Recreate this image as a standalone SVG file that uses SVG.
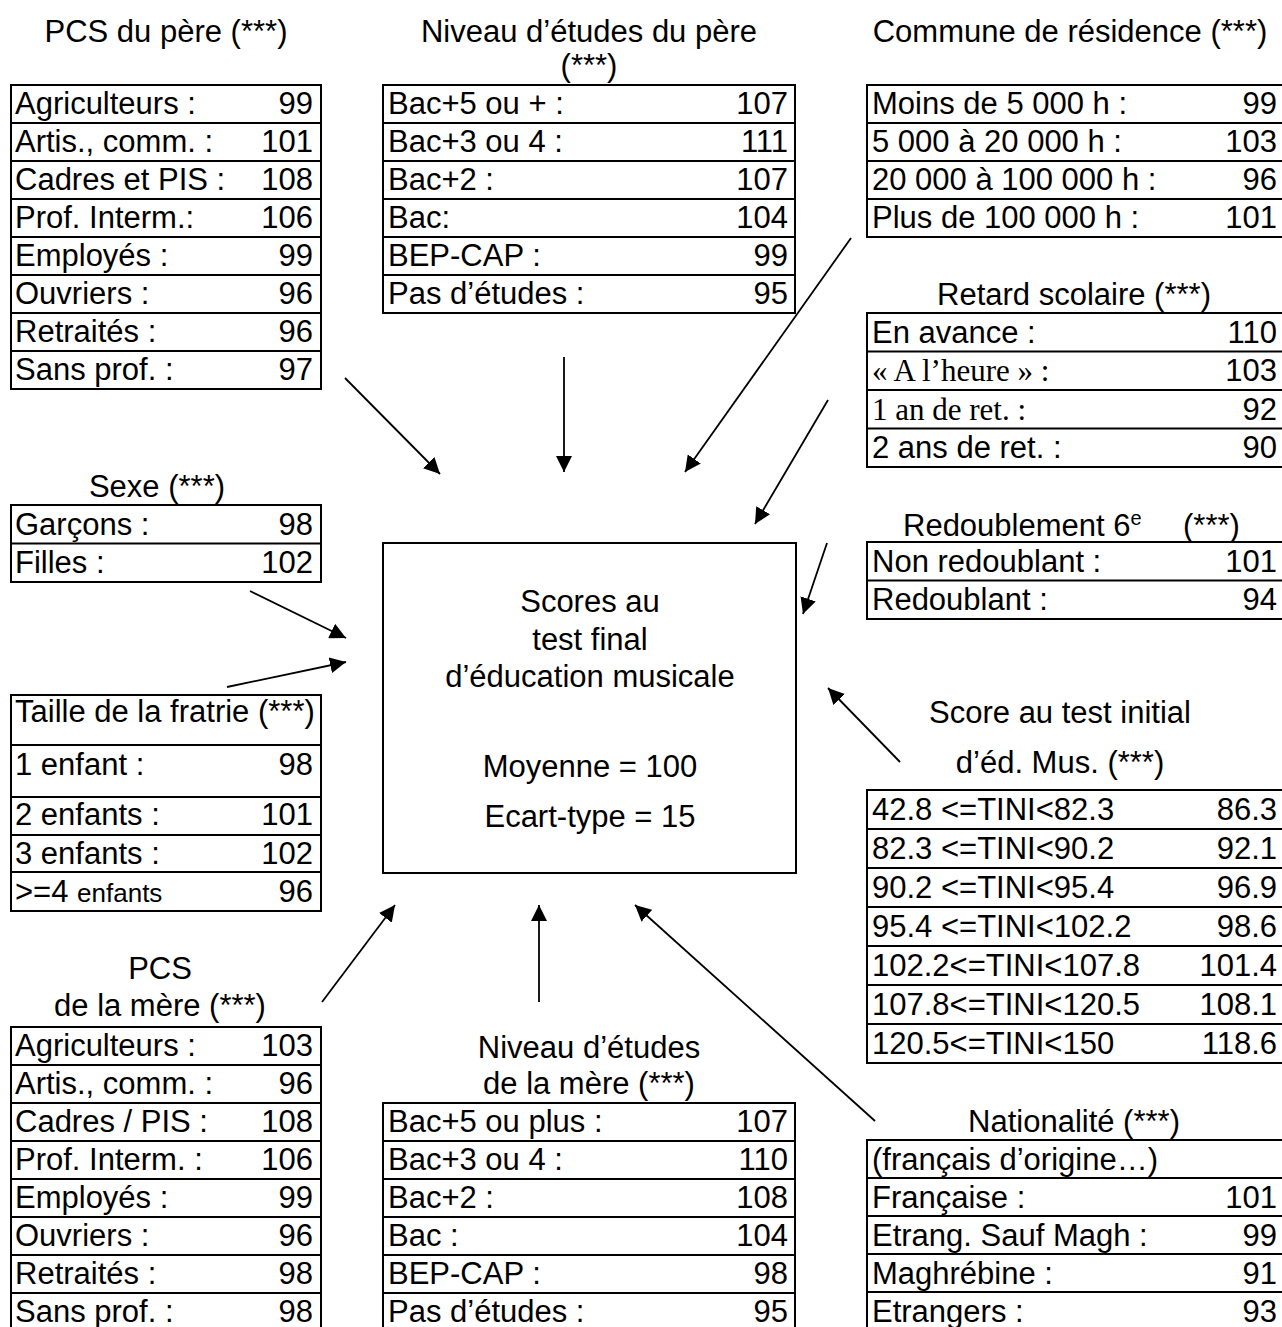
<svg xmlns="http://www.w3.org/2000/svg" width="1282" height="1327" viewBox="0 0 1282 1327">
<style>
text{font-family:"Liberation Sans",Arial,sans-serif;font-size:31px;fill:#000}
.sf{font-family:"Liberation Serif","Times New Roman",serif}
.c{text-anchor:middle}
.r{text-anchor:end}
.tb{fill:none;stroke:#000;stroke-width:2}
.conn line{stroke:#000;stroke-width:1.8;marker-end:url(#ah)}
</style>
<defs>
<marker id="ah" markerUnits="userSpaceOnUse" markerWidth="17" markerHeight="16" refX="16" refY="8" orient="auto">
<path d="M0,0 L16,8 L0,16 z" fill="#000"/>
</marker>
</defs>
<rect width="1282" height="1327" fill="#fff"/>

<g id="pcs-pere">
<text class="c" x="166" y="42">PCS du père (***)</text>
<rect class="tb" x="11" y="85" width="310" height="304"/>
<path class="tb" d="M11,123H321M11,161H321M11,199H321M11,237H321M11,275H321M11,313H321M11,351H321"/>
<text x="15" y="114">Agriculteurs :</text><text class="r" x="313" y="114">99</text>
<text x="15" y="152">Artis., comm. :</text><text class="r" x="313" y="152">101</text>
<text x="15" y="190">Cadres et PIS :</text><text class="r" x="313" y="190">108</text>
<text x="15" y="228">Prof. Interm.:</text><text class="r" x="313" y="228">106</text>
<text x="15" y="266">Employés :</text><text class="r" x="313" y="266">99</text>
<text x="15" y="304">Ouvriers :</text><text class="r" x="313" y="304">96</text>
<text x="15" y="342">Retraités :</text><text class="r" x="313" y="342">96</text>
<text x="15" y="380">Sans prof. :</text><text class="r" x="313" y="380">97</text>
</g>

<g id="niveau-pere">
<text class="c" x="589" y="42">Niveau d’études du père</text>
<text class="c" x="589" y="76">(***)</text>
<rect class="tb" x="383" y="85" width="412" height="228"/>
<path class="tb" d="M383,123H795M383,161H795M383,199H795M383,237H795M383,275H795"/>
<text x="388" y="114">Bac+5 ou + :</text><text class="r" x="788" y="114">107</text>
<text x="388" y="152">Bac+3 ou 4 :</text><text class="r" x="788" y="152">111</text>
<text x="388" y="190">Bac+2 :</text><text class="r" x="788" y="190">107</text>
<text x="388" y="228">Bac:</text><text class="r" x="788" y="228">104</text>
<text x="388" y="266">BEP-CAP :</text><text class="r" x="788" y="266">99</text>
<text x="388" y="304">Pas d’études :</text><text class="r" x="788" y="304">95</text>
</g>

<g id="commune">
<text class="c" x="1070" y="42">Commune de résidence (***)</text>
<rect class="tb" x="867" y="85" width="418" height="152"/>
<path class="tb" d="M867,123H1285M867,161H1285M867,199H1285"/>
<text x="872" y="114">Moins de 5 000 h :</text><text class="r" x="1277" y="114">99</text>
<text x="872" y="152">5 000 à 20 000 h :</text><text class="r" x="1277" y="152">103</text>
<text x="872" y="190">20 000 à 100 000 h :</text><text class="r" x="1277" y="190">96</text>
<text x="872" y="228">Plus de 100 000 h :</text><text class="r" x="1277" y="228">101</text>
</g>

<g id="retard">
<text class="c" x="1074" y="305">Retard scolaire (***)</text>
<rect class="tb" x="867" y="313" width="418" height="154"/>
<path class="tb" d="M867,351.5H1285M867,390H1285M867,428.5H1285"/>
<text x="872" y="343">En avance :</text><text class="r" x="1277" y="343">110</text>
<text class="sf" x="872" y="381">« A l’heure » :</text><text class="r" x="1277" y="381">103</text>
<text class="sf" x="872" y="420">1 an de ret. :</text><text class="r" x="1277" y="420">92</text>
<text x="872" y="458">2 ans de ret. :</text><text class="r" x="1277" y="458">90</text>
</g>

<g id="redoublement">
<text x="903" y="536">Redoublement 6<tspan font-size="20" dy="-11">e</tspan></text>
<text x="1183" y="536">(***)</text>
<rect class="tb" x="867" y="542" width="418" height="77"/>
<path class="tb" d="M867,580.5H1285"/>
<text x="872" y="572">Non redoublant :</text><text class="r" x="1277" y="572">101</text>
<text x="872" y="610">Redoublant :</text><text class="r" x="1277" y="610">94</text>
</g>

<g id="sexe">
<text class="c" x="157" y="497">Sexe (***)</text>
<rect class="tb" x="11" y="505" width="310" height="77"/>
<path class="tb" d="M11,543.5H321"/>
<text x="15" y="535">Garçons :</text><text class="r" x="313" y="535">98</text>
<text x="15" y="573">Filles :</text><text class="r" x="313" y="573">102</text>
</g>

<g id="fratrie">
<rect class="tb" x="11" y="695" width="310" height="216"/>
<path class="tb" d="M11,745H321M11,797H321M11,835H321M11,872H321"/>
<text x="15" y="722">Taille de la fratrie (***)</text>
<text x="15" y="775">1 enfant :</text><text class="r" x="313" y="775">98</text>
<text x="15" y="825">2 enfants :</text><text class="r" x="313" y="825">101</text>
<text x="15" y="864">3 enfants :</text><text class="r" x="313" y="864">102</text>
<text x="15" y="902">&gt;=4 <tspan font-size="26">enfants</tspan></text><text class="r" x="313" y="902">96</text>
</g>

<g id="score-final">
<rect class="tb" x="383" y="543" width="413" height="330"/>
<text class="c" x="590" y="612">Scores au</text>
<text class="c" x="590" y="650">test final</text>
<text class="c" x="590" y="687">d’éducation musicale</text>
<text class="c" x="590" y="777">Moyenne = 100</text>
<text class="c" x="590" y="827">Ecart-type = 15</text>
</g>

<g id="score-initial">
<text class="c" x="1060" y="723">Score au test initial</text>
<text class="c" x="1060" y="773">d’éd. Mus. (***)</text>
<rect class="tb" x="867" y="790" width="418" height="273"/>
<path class="tb" d="M867,829H1285M867,868H1285M867,907H1285M867,946H1285M867,985H1285M867,1024H1285"/>
<text x="872" y="820">42.8 &lt;=TINI&lt;82.3</text><text class="r" x="1277" y="820">86.3</text>
<text x="872" y="859">82.3 &lt;=TINI&lt;90.2</text><text class="r" x="1277" y="859">92.1</text>
<text x="872" y="898">90.2 &lt;=TINI&lt;95.4</text><text class="r" x="1277" y="898">96.9</text>
<text x="872" y="937">95.4 &lt;=TINI&lt;102.2</text><text class="r" x="1277" y="937">98.6</text>
<text x="872" y="976">102.2&lt;=TINI&lt;107.8</text><text class="r" x="1277" y="976">101.4</text>
<text x="872" y="1015">107.8&lt;=TINI&lt;120.5</text><text class="r" x="1277" y="1015">108.1</text>
<text x="872" y="1054">120.5&lt;=TINI&lt;150</text><text class="r" x="1277" y="1054">118.6</text>
</g>

<g id="nationalite">
<text class="c" x="1074" y="1132">Nationalité (***)</text>
<rect class="tb" x="867" y="1140" width="418" height="200"/>
<path class="tb" d="M867,1178H1285M867,1216H1285M867,1254H1285M867,1292H1285"/>
<text x="872" y="1170">(français d’origine…)</text>
<text x="872" y="1208">Française :</text><text class="r" x="1277" y="1208">101</text>
<text x="872" y="1246">Etrang. Sauf Magh :</text><text class="r" x="1277" y="1246">99</text>
<text x="872" y="1284">Maghrébine :</text><text class="r" x="1277" y="1284">91</text>
<text x="872" y="1322">Etrangers :</text><text class="r" x="1277" y="1322">93</text>
</g>

<g id="pcs-mere">
<text class="c" x="160" y="979">PCS</text>
<text class="c" x="160" y="1016">de la mère (***)</text>
<rect class="tb" x="11" y="1027" width="310" height="320"/>
<path class="tb" d="M11,1065H321M11,1103H321M11,1141H321M11,1179H321M11,1217H321M11,1255H321M11,1293H321"/>
<text x="15" y="1056">Agriculteurs :</text><text class="r" x="313" y="1056">103</text>
<text x="15" y="1094">Artis., comm. :</text><text class="r" x="313" y="1094">96</text>
<text x="15" y="1132">Cadres / PIS :</text><text class="r" x="313" y="1132">108</text>
<text x="15" y="1170">Prof. Interm. :</text><text class="r" x="313" y="1170">106</text>
<text x="15" y="1208">Employés :</text><text class="r" x="313" y="1208">99</text>
<text x="15" y="1246">Ouvriers :</text><text class="r" x="313" y="1246">96</text>
<text x="15" y="1284">Retraités :</text><text class="r" x="313" y="1284">98</text>
<text x="15" y="1322">Sans prof. :</text><text class="r" x="313" y="1322">98</text>
</g>

<g id="niveau-mere">
<text class="c" x="589" y="1058">Niveau d’études</text>
<text class="c" x="589" y="1094">de la mère (***)</text>
<rect class="tb" x="383" y="1103" width="412" height="240"/>
<path class="tb" d="M383,1141H795M383,1179H795M383,1217H795M383,1255H795M383,1293H795"/>
<text x="388" y="1132">Bac+5 ou plus :</text><text class="r" x="788" y="1132">107</text>
<text x="388" y="1170">Bac+3 ou 4 :</text><text class="r" x="788" y="1170">110</text>
<text x="388" y="1208">Bac+2 :</text><text class="r" x="788" y="1208">108</text>
<text x="388" y="1246">Bac :</text><text class="r" x="788" y="1246">104</text>
<text x="388" y="1284">BEP-CAP :</text><text class="r" x="788" y="1284">98</text>
<text x="388" y="1322">Pas d’études :</text><text class="r" x="788" y="1322">95</text>
</g>

<g id="connectors" class="conn">
<line x1="345" y1="378" x2="440" y2="474"/>
<line x1="564" y1="357" x2="564" y2="472"/>
<line x1="851" y1="238" x2="685" y2="472"/>
<line x1="828" y1="400" x2="755" y2="524"/>
<line x1="827" y1="543" x2="803" y2="614"/>
<line x1="250" y1="591" x2="346" y2="638"/>
<line x1="227" y1="687" x2="346" y2="662"/>
<line x1="900" y1="762" x2="828" y2="688"/>
<line x1="322" y1="1002" x2="395" y2="905"/>
<line x1="539" y1="1002" x2="539" y2="905"/>
<line x1="875" y1="1121" x2="635" y2="905"/>
</g>
</svg>
